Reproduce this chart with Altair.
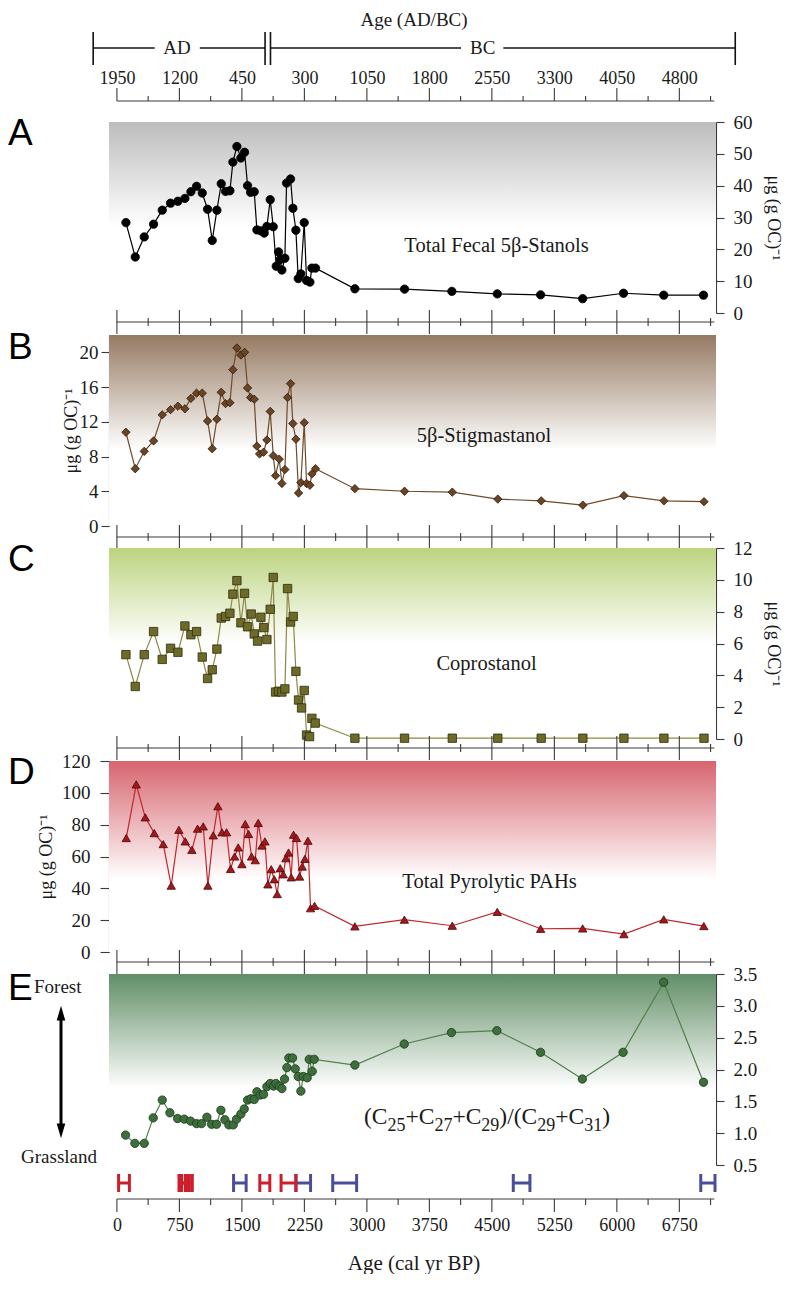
import altair as alt
import pandas as pd

SERIF = "Liberation Serif"
SANS = "Liberation Sans"
AXC = "#3a3a3a"
TXT = "#1a1a1a"

# ---------------- data ----------------
age_a = [108, 220, 328, 440, 544, 644, 732, 816, 888, 956, 1024, 1088, 1144, 1200, 1252, 1304, 1356, 1392,
         1440, 1488, 1532, 1568, 1604, 1648, 1680, 1728, 1768, 1800, 1840, 1876, 1912, 1940, 1960, 1980,
         2016, 2036, 2084, 2112, 2148, 2176, 2208, 2248, 2276, 2316, 2340, 2384, 2856, 3452, 4020, 4565,
         5085, 5590, 6080, 6563, 7040]
val_a = [28.4, 17.6, 23.9, 27.9, 32.3, 34.5, 35.1, 36.0, 38.1, 39.8, 37.7, 32.6, 22.8, 32.3, 40.6, 38.2,
         38.4, 47.4, 52.3, 48.7, 50.5, 40.0, 37.9, 38.1, 26.1, 25.8, 25.1, 27.2, 35.6, 27.1, 14.7, 19.2,
         16.8, 13.5, 17.2, 40.8, 42.1, 32.9, 26.0, 10.8, 12.3, 28.4, 10.2, 9.7, 14.1, 14.1, 7.6, 7.5, 6.8,
         6.0, 5.7, 4.5, 6.2, 5.6, 5.6]

age_b = [108, 220, 328, 440, 544, 644, 732, 816, 888, 956, 1024, 1088, 1144, 1200, 1252, 1304, 1356, 1392,
         1440, 1488, 1532, 1568, 1604, 1648, 1680, 1712, 1760, 1800, 1840, 1876, 1904, 1948, 1980, 2016,
         2048, 2084, 2112, 2148, 2180, 2208, 2248, 2276, 2316, 2340, 2384, 2856, 3452, 4025, 4571, 5092,
         5592, 6085, 6565, 7046]
val_b = [10.8, 6.6, 8.6, 9.8, 12.8, 13.4, 13.8, 13.5, 14.7, 15.3, 15.3, 12.1, 8.9, 12.3, 15.4, 14.1, 14.2,
         18.0, 20.5, 19.7, 20.0, 15.9, 14.8, 14.6, 9.2, 8.3, 8.5, 9.9, 13.2, 8.1, 5.8, 7.7, 4.9, 6.5, 14.8,
         16.4, 11.8, 10.0, 3.8, 5.0, 11.9, 4.9, 4.7, 6.0, 6.6, 4.3, 4.0, 3.9, 3.1, 2.9, 2.4, 3.5, 2.9, 2.8]

age_c = [108, 220, 328, 440, 544, 644, 732, 816, 888, 956, 1024, 1088, 1144, 1200, 1252, 1304, 1356, 1392,
         1440, 1488, 1532, 1568, 1612, 1648, 1688, 1728, 1764, 1800, 1840, 1876, 1904, 1940, 1980, 2016,
         2048, 2084, 2116, 2148, 2180, 2216, 2248, 2276, 2312, 2340, 2380, 2856, 3452, 4025, 4571, 5092,
         5592, 6085, 6565, 7046]
val_c = [5.3, 3.3, 5.3, 6.75, 5.0, 5.7, 5.45, 7.1, 6.55, 6.75, 5.15, 3.8, 4.35, 5.65, 7.6, 7.7, 7.9, 9.1,
         9.95, 7.3, 9.15, 7.05, 7.85, 6.6, 6.15, 7.65, 7.0, 6.25, 8.15, 10.15, 2.95, 3.0, 2.95, 3.15, 9.45,
         7.35, 7.7, 4.25, 2.45, 1.95, 3.05, 0.25, 0.15, 1.3, 1.0, 0.05, 0.05, 0.05, 0.05, 0.05, 0.05, 0.05,
         0.05, 0.05]

age_d = [112, 232, 340, 448, 556, 652, 744, 820, 900, 968, 1036, 1092, 1156, 1212, 1260, 1316, 1364, 1412,
         1456, 1500, 1540, 1580, 1616, 1660, 1696, 1740, 1776, 1812, 1852, 1888, 1924, 1960, 1996, 2028,
         2060, 2092, 2120, 2156, 2192, 2224, 2256, 2292, 2324, 2372, 2856, 3450, 4025, 4565, 5085, 5590,
         6085, 6563, 7044]
val_d = [71.6, 105.3, 84.6, 74.7, 67.8, 41.7, 76.8, 69.5, 64.2, 77.5, 78.9, 41.7, 73.3, 91.6, 75.2, 75.2,
         52.2, 60.0, 65.7, 55.2, 80.4, 74.1, 60.0, 57.7, 81.1, 66.9, 69.5, 42.5, 52.0, 45.7, 36.4, 52.6,
         48.8, 58.9, 62.5, 46.9, 73.7, 71.6, 47.4, 53.7, 58.5, 69.9, 27.5, 29.0, 16.1, 20.3, 16.5, 25.2,
         14.6, 14.8, 11.2, 20.5, 16.3]

age_e = [104, 216, 328, 436, 544, 636, 728, 808, 884, 956, 1016, 1080, 1136, 1196, 1248, 1296, 1344, 1396,
         1436, 1488, 1528, 1568, 1608, 1648, 1680, 1720, 1760, 1800, 1840, 1880, 1908, 1948, 1980, 2012,
         2040, 2064, 2108, 2140, 2176, 2208, 2236, 2284, 2308, 2344, 2368, 2856, 3448, 4015, 4560, 5084,
         5586, 6075, 6562, 7040]
val_e = [0.97, 0.84, 0.84, 1.24, 1.52, 1.32, 1.23, 1.22, 1.19, 1.15, 1.15, 1.25, 1.14, 1.14, 1.36, 1.21,
         1.13, 1.13, 1.22, 1.30, 1.38, 1.52, 1.54, 1.53, 1.65, 1.60, 1.61, 1.73, 1.78, 1.74, 1.78, 1.74,
         1.70, 1.85, 2.03, 2.18, 2.18, 2.01, 1.89, 1.66, 1.89, 1.87, 2.16, 1.97, 2.16, 2.07, 2.40, 2.58,
         2.61, 2.27, 1.85, 2.27, 3.37, 1.80]

# dated intervals (cal yr BP)
date_start = [20, 745, 775, 820, 1715, 1970, 1400, 2150, 2590, 4757, 7007]
date_end = [150, 835, 870, 905, 1835, 2147, 1551, 2324, 2877, 4957, 7178]
date_kind = ["red", "red", "red", "red", "red", "red", "blue", "blue", "blue", "blue", "blue"]

# axis ticks (cal yr BP)
tick_major = [0, 750, 1500, 2250, 3000, 3750, 4500, 5250, 6000, 6750]
tick_minor = [375, 1125, 1875, 2625, 3375, 4125, 4875, 5625, 6375, 7125]
axis_end = 7170

# AD/BC bracket (cal yr BP positions)
bracket_seg_start = [-285, 995, 1843, 4637]
bracket_seg_end = [454, 1778, 4130, 7421]
bracket_caps = [-285, 1778, 1843, 7421]
era_pos = [722, 4390]
era_text = ["AD", "BC"]

# ratio label of panel E, in pieces (normal / subscript)
e_parts = ["(C", "25", "+C", "27", "+C", "29", ")/(C", "29", "+C", "31", ")"]
e_is_sub = [False, True, False, True, False, True, False, True, False, True, False]

# ---------------- layout ----------------
W, H = 607, 191
XDOM = [-95, 7190]
xscale = alt.Scale(domain=XDOM, nice=False, zero=False)
YLAB = 19
YTITLE = "μg (g OC)⁻¹"

one = pd.DataFrame({"k": [0]})

top_axis = alt.Axis(orient="top", values=tick_major, labelExpr="abs(1950 - datum.value)",
                    ticks=False, tickSize=0, domain=False, grid=False, labelPadding=35,
                    labelFont=SERIF, labelFontSize=18, labelColor=TXT, title=None)
bottom_axis = alt.Axis(orient="bottom", values=tick_major, format="d", ticks=False, tickSize=0,
                       domain=False, grid=False, labelPadding=51, labelFont=SERIF, labelFontSize=18,
                       labelColor=TXT, title=None)


def make_X(xaxis):
    def X(field):
        return alt.X(field, type="quantitative", scale=xscale, axis=xaxis)
    return X


def hline(X, y0):
    return alt.Chart(pd.DataFrame({"a": [0], "b": [axis_end]})).mark_rule(
        color=AXC, strokeWidth=1.1).encode(x=X("a"), x2="b:Q", y=alt.value(y0))


def ticks(X, vals, y1, y2):
    return alt.Chart(pd.DataFrame({"t": vals})).mark_rule(
        color=AXC, strokeWidth=1.1).encode(x=X("t"), y=alt.value(y1), y2=alt.value(y2))


def separator(X, y0):
    return [hline(X, y0), ticks(X, tick_major, y0 - 12, y0 + 12), ticks(X, tick_minor, y0 - 4, y0 + 4)]


def panel(X, age, val, ydom, yvals, orient, shape, fill, stroke, lcolor, gtop, gstop,
          label, lx, ly, letter, letter_y, yfmt=None, lab_pad=9, tick_size=8, title_x=None,
          extra=()):
    df = pd.DataFrame({"age": age, "v": val})
    yscale = alt.Scale(domain=ydom, nice=False, zero=False)
    axis_kw = dict(orient=orient, values=yvals, tickSize=tick_size, tickColor=AXC, tickWidth=1.1,
                   domainColor=AXC, domainWidth=1.1, labelFont=SERIF, labelFontSize=YLAB,
                   labelColor=TXT, labelPadding=lab_pad, grid=False)
    if title_x is None:
        axis_kw["title"] = None
    else:
        axis_kw.update(title=YTITLE, titleFont=SERIF, titleFontSize=18, titleFontWeight="normal",
                       titleColor=TXT, titleX=title_x, titleY=H / 2, titleAlign="center",
                       titleBaseline="middle", titleAngle=90 if orient == "right" else 270)
    if yfmt:
        axis_kw["format"] = yfmt
    yaxis = alt.Axis(**axis_kw)
    Y = alt.Y("v:Q", scale=yscale, axis=yaxis)
    bg = alt.Chart(one).mark_rect(
        fill=alt.LinearGradient(gradient="linear", x1=0, x2=0, y1=0, y2=1,
                                stops=[alt.GradientStop(color=gtop, offset=0),
                                       alt.GradientStop(color="#ffffff", offset=gstop)]),
        strokeWidth=0).encode(x=alt.value(0), x2=alt.value(W), y=alt.value(0), y2=alt.value(H))
    line = alt.Chart(df).mark_line(color=lcolor, strokeWidth=1.2).encode(x=X("age"), y=Y)
    pts = alt.Chart(df).mark_point(shape=shape, filled=True, size=70, fill=fill, stroke=stroke,
                                   strokeWidth=0.8, opacity=1).encode(x=X("age"), y=Y)
    layers = [bg, line, pts]
    if label:
        layers.append(alt.Chart(pd.DataFrame({"age": [lx], "v": [ly], "t": [label]})).mark_text(
            font=SERIF, fontSize=20.5, color=TXT, baseline="middle").encode(
            x=X("age"), y=Y, text="t:N"))
    layers.append(alt.Chart(pd.DataFrame({"t": [letter]})).mark_text(
        font=SANS, fontSize=37, align="left", baseline="middle", color="#000").encode(
        x=alt.value(-101), y=alt.value(letter_y), text="t:N"))
    return alt.layer(*layers, *extra).properties(width=W, height=H)


# ---- panel A with top axis (AD/BC) ----
XA = make_X(top_axis)
top_y = -21
top_layers = [
    hline(XA, top_y),
    ticks(XA, tick_major, top_y - 13, top_y),
    ticks(XA, tick_minor, top_y - 5, top_y),
    alt.Chart(pd.DataFrame({"a": bracket_seg_start, "b": bracket_seg_end})).mark_rule(
        color="#111", strokeWidth=1.6).encode(x=XA("a"), x2="b:Q", y=alt.value(-74)),
    alt.Chart(pd.DataFrame({"a": bracket_caps})).mark_rule(color="#111", strokeWidth=1.6).encode(
        x=XA("a"), y=alt.value(-90), y2=alt.value(-57)),
    alt.Chart(pd.DataFrame({"a": era_pos, "t": era_text})).mark_text(
        font=SERIF, fontSize=19, color=TXT, baseline="middle").encode(
        x=XA("a"), y=alt.value(-74), text="t:N"),
    alt.Chart(pd.DataFrame({"t": ["Age (AD/BC)"]})).mark_text(
        font=SERIF, fontSize=19, color=TXT, baseline="middle").encode(
        x=alt.value(305), y=alt.value(-102), text="t:N"),
]

pA = panel(XA, age_a, val_a, [0, 60], [0, 10, 20, 30, 40, 50, 60], "right", "circle", "#000000",
           "#000000", "#000000", "#bdbdbd", 0.55, "Total Fecal 5β-Stanols", 4556, 21.2, "A", 12,
           title_x=56, extra=top_layers + separator(XA, H + 9))

XN = make_X(None)
pB = panel(XN, age_b, val_b, [0, 22], [0, 4, 8, 12, 16, 20], "left", "diamond", "#6b4423", "#2b1a0c",
           "#6e4b2c", "#957a62", 0.6, "5β-Stigmastanol", 4406, 10.4, "B", 13, lab_pad=3,
           title_x=-38, extra=separator(XN, H + 11))
pC = panel(XN, age_c, val_c, [0, 12], [0, 2, 4, 6, 8, 10, 12], "right", "square", "#6e6b29", "#2c2b0e",
           "#8c8a44", "#bcd37f", 0.5, "Coprostanol", 4436, 4.7, "C", 12, title_x=56,
           extra=separator(XN, H + 9))
pD = panel(XN, age_d, val_d, [0, 120], [0, 20, 40, 60, 80, 100, 120], "left", "triangle-up", "#a5171b",
           "#4a0808", "#c1272d", "#d7656f", 0.62, "Total Pyrolytic PAHs", 4472, 44.2, "D", 12,
           lab_pad=10, tick_size=9, title_x=-63, extra=separator(XN, H + 10))

# ---- panel E with bottom axis, dated intervals, forest/grassland arrow ----
XE = make_X(bottom_axis)
dates = pd.DataFrame({"s": date_start, "e": date_end, "k": date_kind})
dcol = alt.Color("k:N", scale=alt.Scale(domain=["red", "blue"], range=["#cc1f2b", "#4b4d9b"]),
                 legend=None)
DY = 209
date_layers = [
    alt.Chart(dates).mark_rule(strokeWidth=3).encode(x=XE("s"), x2="e:Q", y=alt.value(DY), color=dcol),
    alt.Chart(dates).mark_rule(strokeWidth=3).encode(x=XE("s"), y=alt.value(DY - 9),
                                                     y2=alt.value(DY + 9), color=dcol),
    alt.Chart(dates).mark_rule(strokeWidth=3).encode(x=XE("e"), y=alt.value(DY - 9),
                                                     y2=alt.value(DY + 9), color=dcol),
]
bot_y = 225
bottom_layers = [
    hline(XE, bot_y),
    ticks(XE, tick_major, bot_y, bot_y + 13),
    ticks(XE, tick_minor, bot_y, bot_y + 6),
    alt.Chart(pd.DataFrame({"t": ["Age (cal yr BP)"]})).mark_text(
        font=SERIF, fontSize=21, color=TXT, baseline="middle").encode(
        x=alt.value(305), y=alt.value(290), text="t:N"),
]
arrow_x = -48
arrow_layers = [
    alt.Chart(one).mark_rule(color="#000", strokeWidth=3).encode(
        x=alt.value(arrow_x), y=alt.value(44), y2=alt.value(152)),
    alt.Chart(one).mark_point(shape="M0,-1L0.42,0.45L-0.42,0.45Z", filled=True, size=420,
                              color="#000", opacity=1).encode(x=alt.value(arrow_x), y=alt.value(42)),
    alt.Chart(one).mark_point(shape="M0,1L0.42,-0.45L-0.42,-0.45Z", filled=True, size=420,
                              color="#000", opacity=1).encode(x=alt.value(arrow_x), y=alt.value(154)),
    alt.Chart(pd.DataFrame({"t": ["Forest"]})).mark_text(
        font=SERIF, fontSize=19, color=TXT, align="left", baseline="middle").encode(
        x=alt.value(-75), y=alt.value(13), text="t:N"),
    alt.Chart(pd.DataFrame({"t": ["Grassland"]})).mark_text(
        font=SERIF, fontSize=19, color=TXT, align="left", baseline="middle").encode(
        x=alt.value(-88), y=alt.value(183), text="t:N"),
]

# ratio label with real-size subscripts: pieces placed one after another
MAIN_FS, SUB_FS = 23.5, 18
glyph_w = {"(": 0.333, ")": 0.333, "C": 0.667, "+": 0.564, "/": 0.278}
piece_w = []
for p, s in zip(e_parts, e_is_sub):
    fs = SUB_FS if s else MAIN_FS
    piece_w.append(sum(glyph_w.get(ch, 0.5) for ch in p) * fs)
cx = 378 - sum(piece_w) / 2
piece_x = []
for w in piece_w:
    piece_x.append(cx)
    cx += w
e_label_layers = []
for p, s, px in zip(e_parts, e_is_sub, piece_x):
    e_label_layers.append(alt.Chart(pd.DataFrame({"t": [p]})).mark_text(
        font=SERIF, fontSize=SUB_FS if s else MAIN_FS, color=TXT, align="left",
        baseline="alphabetic").encode(x=alt.value(px), y=alt.value(157 if s else 150), text="t:N"))

pE = panel(XE, age_e, val_e, [0.5, 3.5], [0.5, 1.0, 1.5, 2.0, 2.5, 3.0, 3.5], "right", "circle",
           "#3e6e3b", "#1c3a1c", "#4f7f4b", "#618e66", 0.6, None, 0, 0,
           "E", 15, yfmt=".1f",
           extra=e_label_layers + date_layers + bottom_layers + arrow_layers)

chart = alt.vconcat(pA, pB, pC, pD, pE, spacing=22, bounds="flush").properties(
    padding={"top": 3, "left": 0, "right": 2, "bottom": 0}).configure_view(stroke=None)

chart.save("out.html", embed_options={"renderer": "svg", "actions": False})
